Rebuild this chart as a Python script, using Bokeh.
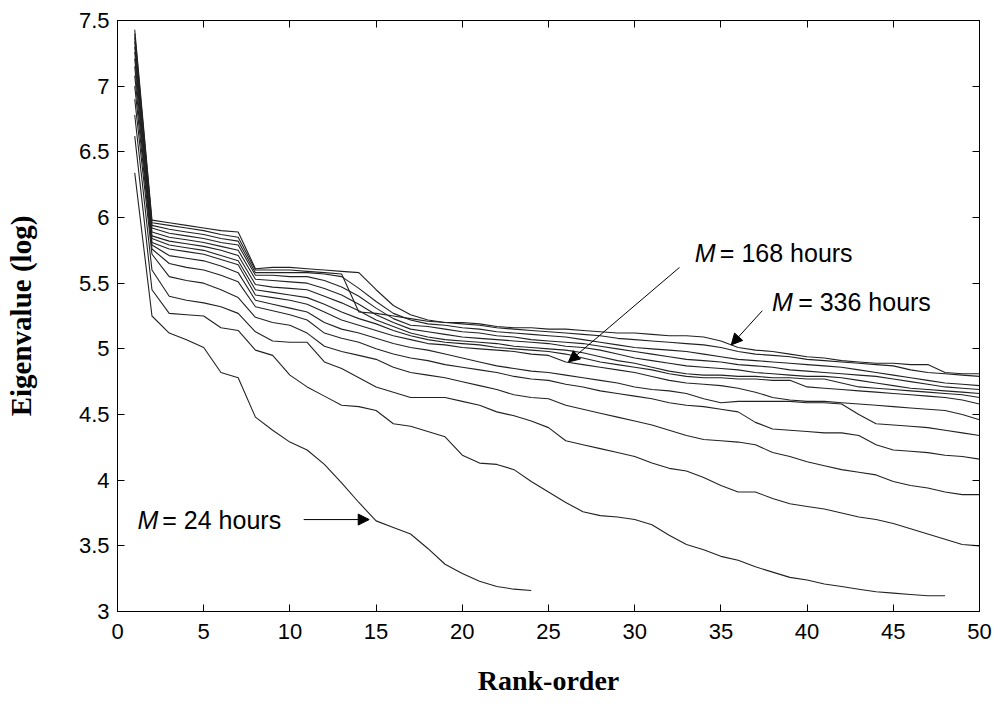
from bokeh.plotting import figure
from bokeh.models import (LinearAxis, FixedTicker, Label, Arrow, NormalHead)
from bokeh.embed import file_html
from bokeh.resources import INLINE

# ---------------- data ----------------
rank = list(range(1, 51))

m24 = [6.34, 5.25, 5.12, 5.07, 5.01, 4.82, 4.78, 4.48, 4.38, 4.29,
       4.23, 4.12, 3.98, 3.83, 3.69, 3.64, 3.59, 3.48, 3.36, 3.29,
       3.23, 3.19, 3.17, 3.16]
m48 = [6.62, 5.45, 5.27, 5.26, 5.25, 5.16, 5.14, 4.99, 4.95, 4.80,
       4.71, 4.64, 4.57, 4.56, 4.53, 4.43, 4.41, 4.37, 4.33, 4.19,
       4.13, 4.12, 4.08, 3.99, 3.91, 3.83, 3.76, 3.73, 3.72, 3.70,
       3.66, 3.58, 3.51, 3.47, 3.42, 3.39, 3.34, 3.30, 3.26, 3.24,
       3.21, 3.19, 3.17, 3.15, 3.14, 3.13, 3.12, 3.12]
m72 = [6.78, 5.60, 5.40, 5.37, 5.35, 5.32, 5.27, 5.13, 5.06, 5.05,
       5.05, 4.90, 4.85, 4.78, 4.71, 4.67, 4.63, 4.63, 4.63, 4.60,
       4.57, 4.52, 4.49, 4.45, 4.40, 4.30, 4.27, 4.24, 4.21, 4.18,
       4.13, 4.09, 4.07, 4.02, 3.96, 3.91, 3.91, 3.86, 3.82, 3.80,
       3.78, 3.75, 3.72, 3.70, 3.67, 3.63, 3.59, 3.55, 3.51, 3.50]
m96 = [6.90, 5.72, 5.55, 5.52, 5.50, 5.45, 5.39, 5.24, 5.20, 5.18,
       5.12, 5.02, 4.98, 4.95, 4.92, 4.86, 4.82, 4.80, 4.78, 4.75,
       4.72, 4.69, 4.65, 4.63, 4.62, 4.57, 4.54, 4.51, 4.48, 4.45,
       4.42, 4.38, 4.34, 4.31, 4.30, 4.29, 4.27, 4.21, 4.18, 4.14,
       4.11, 4.08, 4.06, 4.04, 3.99, 3.96, 3.94, 3.91, 3.89, 3.89]
m120 = [7.00, 5.76, 5.65, 5.62, 5.60, 5.56, 5.51, 5.32, 5.29, 5.26,
        5.22, 5.12, 5.08, 5.05, 5.00, 4.96, 4.93, 4.91, 4.88, 4.86,
        4.84, 4.82, 4.79, 4.77, 4.76, 4.73, 4.71, 4.68, 4.66, 4.64,
        4.62, 4.59, 4.57, 4.56, 4.54, 4.52, 4.44, 4.39, 4.38, 4.37,
        4.36, 4.36, 4.34, 4.27, 4.23, 4.22, 4.21, 4.19, 4.18, 4.16]
m144 = [7.08, 5.79, 5.71, 5.69, 5.67, 5.63, 5.58, 5.37, 5.34, 5.31,
        5.28, 5.20, 5.15, 5.12, 5.08, 5.04, 5.01, 4.99, 4.96, 4.93,
        4.90, 4.87, 4.85, 4.83, 4.82, 4.80, 4.78, 4.76, 4.74, 4.71,
        4.69, 4.68, 4.66, 4.62, 4.59, 4.60, 4.60, 4.60, 4.60, 4.59,
        4.59, 4.58, 4.50, 4.43, 4.42, 4.41, 4.40, 4.38, 4.36, 4.34]
m168 = [7.15, 5.81, 5.76, 5.74, 5.72, 5.68, 5.64, 5.41, 5.39, 5.37,
        5.34, 5.28, 5.22, 5.18, 5.14, 5.10, 5.07, 5.04, 5.03, 5.01,
        5.00, 4.99, 4.98, 4.96, 4.95, 4.90, 4.88, 4.86, 4.84, 4.82,
        4.79, 4.76, 4.74, 4.73, 4.72, 4.70, 4.67, 4.63, 4.61, 4.60,
        4.60, 4.59, 4.58, 4.57, 4.56, 4.55, 4.54, 4.53, 4.50, 4.46]
m192 = [7.21, 5.84, 5.79, 5.77, 5.75, 5.71, 5.67, 5.45, 5.43, 5.41,
        5.39, 5.34, 5.28, 5.23, 5.19, 5.14, 5.10, 5.07, 5.05, 5.04,
        5.03, 5.01, 5.00, 4.99, 4.98, 4.96, 4.93, 4.90, 4.88, 4.86,
        4.84, 4.81, 4.79, 4.78, 4.78, 4.77, 4.77, 4.76, 4.76, 4.71,
        4.70, 4.69, 4.68, 4.67, 4.66, 4.65, 4.64, 4.63, 4.61, 4.58]
m216 = [7.26, 5.86, 5.82, 5.80, 5.78, 5.75, 5.71, 5.49, 5.47, 5.46,
        5.45, 5.40, 5.35, 5.29, 5.22, 5.17, 5.12, 5.09, 5.07, 5.06,
        5.05, 5.04, 5.02, 5.01, 5.00, 4.99, 4.97, 4.94, 4.91, 4.89,
        4.86, 4.83, 4.81, 4.80, 4.80, 4.79, 4.79, 4.78, 4.78, 4.77,
        4.77, 4.74, 4.71, 4.70, 4.69, 4.68, 4.67, 4.66, 4.65, 4.63]
m240 = [7.30, 5.89, 5.85, 5.83, 5.81, 5.78, 5.75, 5.53, 5.52, 5.51,
        5.50, 5.46, 5.41, 5.34, 5.26, 5.20, 5.15, 5.13, 5.11, 5.09,
        5.08, 5.07, 5.06, 5.05, 5.04, 5.02, 5.01, 4.99, 4.96, 4.93,
        4.91, 4.89, 4.87, 4.86, 4.85, 4.84, 4.82, 4.81, 4.80, 4.79,
        4.79, 4.78, 4.76, 4.74, 4.72, 4.70, 4.69, 4.68, 4.67, 4.66]
m264 = [7.34, 5.92, 5.88, 5.86, 5.84, 5.81, 5.79, 5.56, 5.56, 5.55,
        5.55, 5.52, 5.47, 5.40, 5.31, 5.23, 5.18, 5.17, 5.15, 5.13,
        5.12, 5.10, 5.09, 5.07, 5.06, 5.05, 5.04, 5.02, 5.00, 4.98,
        4.96, 4.94, 4.92, 4.91, 4.90, 4.88, 4.87, 4.86, 4.84, 4.83,
        4.82, 4.81, 4.80, 4.79, 4.77, 4.75, 4.73, 4.71, 4.70, 4.69]
m288 = [7.37, 5.94, 5.91, 5.89, 5.87, 5.84, 5.82, 5.58, 5.58, 5.58,
        5.58, 5.57, 5.55, 5.46, 5.36, 5.27, 5.22, 5.19, 5.18, 5.16,
        5.15, 5.13, 5.12, 5.11, 5.10, 5.09, 5.07, 5.05, 5.03, 5.01,
        5.00, 4.99, 4.98, 4.96, 4.94, 4.92, 4.91, 4.90, 4.89, 4.88,
        4.87, 4.86, 4.84, 4.82, 4.80, 4.78, 4.76, 4.74, 4.73, 4.72]
m312 = [7.40, 5.96, 5.94, 5.92, 5.90, 5.87, 5.85, 5.60, 5.60, 5.60,
        5.59, 5.58, 5.57, 5.28, 5.27, 5.25, 5.23, 5.21, 5.20, 5.19,
        5.18, 5.16, 5.15, 5.14, 5.13, 5.12, 5.11, 5.10, 5.08, 5.07,
        5.06, 5.05, 5.04, 5.03, 5.01, 4.98, 4.96, 4.95, 4.94, 4.92,
        4.91, 4.90, 4.89, 4.88, 4.87, 4.84, 4.82, 4.81, 4.80, 4.79]
m336 = [7.43, 5.98, 5.96, 5.94, 5.92, 5.90, 5.89, 5.61, 5.62, 5.62,
        5.61, 5.60, 5.59, 5.58, 5.45, 5.33, 5.26, 5.22, 5.20, 5.20,
        5.19, 5.17, 5.16, 5.16, 5.15, 5.15, 5.14, 5.13, 5.12, 5.12,
        5.11, 5.10, 5.10, 5.09, 5.06, 5.01, 4.99, 4.98, 4.96, 4.94,
        4.93, 4.91, 4.90, 4.89, 4.89, 4.88, 4.88, 4.82, 4.81, 4.81]

series = [m24, m48, m72, m96, m120, m144, m168, m192, m216, m240,
          m264, m288, m312, m336]

x_ticks = [0, 5, 10, 15, 20, 25, 30, 35, 40, 45, 50]
y_ticks = [3, 3.5, 4, 4.5, 5, 5.5, 6, 6.5, 7, 7.5]
y_tick_labels = ["3", "3.5", "4", "4.5", "5", "5.5", "6", "6.5", "7", "7.5"]

# ---------------- figure ----------------
p = figure(width=1000, height=704, x_range=(0, 50), y_range=(3, 7.5),
           output_backend="svg", toolbar_location=None,
           min_border_left=117, min_border_right=21,
           min_border_top=20, min_border_bottom=93,
           x_axis_location=None, y_axis_location=None)
p.xgrid.visible = False
p.ygrid.visible = False
p.outline_line_color = "black"
p.outline_line_width = 1
p.background_fill_color = "white"
p.border_fill_color = "white"

TICK_FONT = "Liberation Sans"


def make_axis(is_x, show_labels):
    ax = LinearAxis()
    ax.ticker = FixedTicker(ticks=x_ticks if is_x else y_ticks)
    ax.major_tick_in = 7
    ax.major_tick_out = 0
    ax.minor_tick_line_color = None
    ax.axis_line_color = "black"
    ax.major_tick_line_color = "black"
    if show_labels:
        ax.major_label_text_font = TICK_FONT
        ax.major_label_text_font_size = "22px"
        ax.major_label_text_color = "black"
        if not is_x:
            ax.major_label_overrides = {t: l for t, l in zip(y_ticks, y_tick_labels)}
    else:
        # tick marks only: the labels are switched off (not drawn)
        ax.major_label_text_color = None
        ax.major_label_text_font_size = "1px"
        ax.major_label_standoff = 0
    return ax


xb = make_axis(True, True)
xb.major_label_standoff = 12
xb.axis_label = "Rank-order"
xb.axis_label_text_font = "Liberation Serif"
xb.axis_label_text_font_style = "bold"
xb.axis_label_text_font_size = "28px"
xb.axis_label_text_color = "black"
xb.axis_label_standoff = 23
p.add_layout(xb, "below")

yl = make_axis(False, True)
yl.major_label_standoff = 8
yl.axis_label = "Eigenvalue (log)"
yl.axis_label_text_font = "Liberation Serif"
yl.axis_label_text_font_style = "bold"
yl.axis_label_text_font_size = "29px"
yl.axis_label_text_color = "black"
yl.axis_label_standoff = 39
p.add_layout(yl, "left")

p.add_layout(make_axis(True, False), "above")
p.add_layout(make_axis(False, False), "right")

for s in series:
    p.line(rank[:len(s)], s, line_color="#222222", line_width=1.1)

# ---------------- annotations ----------------
LBL_FONT = "Liberation Sans"
LBL_SIZE = "25px"


def add_label(xm, xt, y, rest):
    p.add_layout(Label(x=xm, y=y, text="M", text_font=LBL_FONT,
                       text_font_style="italic", text_font_size=LBL_SIZE,
                       text_baseline="middle", text_color="black"))
    p.add_layout(Label(x=xt, y=y, text=rest, text_font=LBL_FONT,
                       text_font_size=LBL_SIZE, text_baseline="middle",
                       text_color="black"))


add_label(33.49, 34.94, 5.73, "= 168 hours")
add_label(37.97, 39.48, 5.36, "= 336 hours")
add_label(1.16, 2.60, 3.70, "= 24 hours")


def add_arrow(x0, y0, x1, y1):
    p.add_layout(Arrow(end=NormalHead(size=11, fill_color="black",
                                      line_color="black"),
                       x_start=x0, y_start=y0, x_end=x1, y_end=y1,
                       line_color="black", line_width=1))


add_arrow(32.6, 5.62, 26.16, 4.90)
add_arrow(37.4, 5.29, 35.6, 5.03)
add_arrow(10.8, 3.70, 14.6, 3.70)

open("out.html", "w").write(file_html(p, INLINE))
